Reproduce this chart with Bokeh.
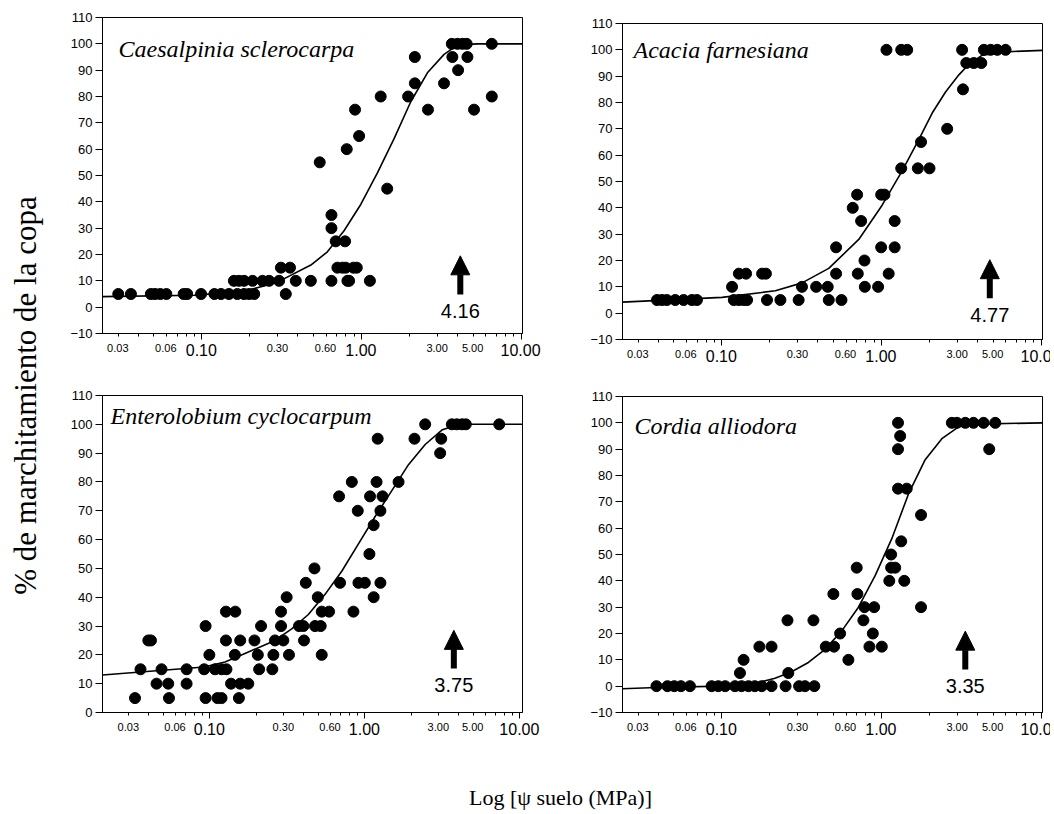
import math
from bokeh.plotting import figure
from bokeh.models import Range1d, FixedTicker, Label, Arrow, NormalHead, CustomJSTickFormatter, Div
from bokeh.layouts import row, column
from bokeh.embed import file_html
from bokeh.resources import INLINE
from bokeh.core.properties import value

# ---------------- data ----------------
# Panel 1: Caesalpinia sclerocarpa
p1_x = [0.030, 0.036, 0.048, 0.051, 0.055, 0.060, 0.077, 0.081, 0.099, 0.120, 0.132, 0.148, 0.167, 0.184, 0.198, 0.213, 0.336,
        0.159, 0.171, 0.184, 0.208, 0.240, 0.264, 0.305, 0.388, 0.482, 0.649, 0.817, 0.837, 1.13,
        0.313, 0.357, 0.707, 0.760, 0.797, 0.891, 0.935,
        0.690, 0.790, 0.649, 0.649,
        0.548, 0.809, 0.967, 0.912, 1.32, 1.45, 1.96, 2.16, 2.16, 2.61, 3.29,
        3.68, 3.99, 4.29, 4.56, 3.71, 4.03, 4.61, 5.07, 6.55, 6.55]
p1_y = [5] * 17 + [10] * 13 + [15] * 7 + \
       [25, 25, 30, 35,
        55, 60, 65, 75, 80, 45, 80, 95, 85, 75, 85,
        100, 100, 100, 100, 95, 90, 95, 75, 100, 80]
c1_x = [0.0239, 0.0896, 0.184, 0.298, 0.482, 0.612, 0.778, 0.99, 1.259, 1.601, 2.036, 2.589, 3.292, 3.99, 5.32, 10.2]
c1_y = [4, 4.5, 6, 9.5, 16, 21, 29, 39, 51, 64, 78, 89, 96, 99.5, 100, 100]

# Panel 2: Acacia farnesiana
p2_x = [0.0393, 0.0422, 0.0453, 0.0511, 0.0577, 0.0650, 0.0699, 0.119, 0.128, 0.137, 0.144, 0.192, 0.233, 0.303, 0.468, 0.562,
        0.116, 0.318, 0.390, 0.461, 0.787, 0.953,
        0.128, 0.142, 0.179, 0.189, 0.520, 0.711, 1.11,
        0.520, 0.996, 1.21, 0.783, 0.746, 1.21, 0.661, 0.704, 0.996, 1.045,
        1.33, 1.69, 2.0, 1.77, 2.58, 3.24,
        1.075, 1.33, 1.45, 3.20, 4.38, 4.83, 5.31, 5.99, 3.40, 3.79, 4.22]
p2_y = [5] * 16 + [10] * 6 + [15] * 7 + \
       [25, 25, 25, 20, 35, 35, 40, 45, 45, 45,
        55, 55, 55, 65, 70, 85,
        100, 100, 100, 100, 100, 100, 100, 100, 95, 95, 95]
c2_x = [0.0239, 0.1003, 0.2166, 0.3184, 0.4677, 0.7212, 1.01, 1.348, 1.716, 2.079, 2.52, 3.055, 3.53, 4.28, 6.29, 10.2]
c2_y = [4.2, 6, 8.5, 11.5, 17, 28, 41, 54, 66, 76, 84, 90.5, 94.5, 98, 99.3, 99.8]

# Panel 3: Enterolobium cyclocarpum
p3_x = [0.0329, 0.0545, 0.0939, 0.112, 0.119, 0.154,
        0.0453, 0.0539, 0.0708, 0.137, 0.157, 0.177,
        0.0357, 0.0488, 0.0708, 0.0919, 0.108, 0.119, 0.128, 0.208, 0.253,
        0.0993, 0.145, 0.204, 0.257, 0.324, 0.527,
        0.0401, 0.0417, 0.127, 0.157, 0.194, 0.263, 0.298, 0.405,
        0.0939, 0.214, 0.288, 0.376, 0.401, 0.477, 0.519,
        0.127, 0.146, 0.288, 0.527, 0.588, 0.844,
        0.313, 0.497, 1.14,
        0.416, 0.692, 0.909, 1.0, 1.26,
        0.473, 1.07, 1.14, 0.900, 1.26, 0.682, 1.08, 1.30, 0.824, 1.19, 1.65,
        1.21, 2.09, 3.11, 3.06, 2.45, 3.64, 3.92, 4.23, 4.48, 7.36]
p3_y = [5] * 6 + [10] * 6 + [15] * 9 + [20] * 6 + [25] * 8 + [30] * 7 + [35] * 6 + [40] * 3 + [45] * 5 + \
       [50, 55, 65, 70, 70, 75, 75, 75, 80, 80, 80,
        95, 95, 95, 90, 100, 100, 100, 100, 100, 100]
c3_x = [0.0203, 0.0919, 0.1252, 0.1685, 0.2633, 0.3373, 0.4321, 0.5538, 0.7096, 0.9092, 1.165, 1.493, 1.912, 2.45, 3.139, 4.022, 10.4]
c3_y = [13, 15.8, 17.5, 20.5, 25, 29, 34, 41, 49, 58.5, 68, 77, 86, 93, 98, 100, 100]

# Panel 4: Cordia alliodora
p4_x = [0.039, 0.0457, 0.0504, 0.0555, 0.0632, 0.0864, 0.0951, 0.105, 0.121, 0.133, 0.147, 0.161, 0.178, 0.205, 0.251, 0.305, 0.332, 0.380,
        0.130, 0.261, 0.137, 0.621,
        0.172, 0.205, 0.448, 0.505, 0.841, 1.005,
        0.551, 0.883, 0.258, 0.375, 0.771, 0.783, 0.900, 1.77,
        0.500, 0.707, 1.12, 1.39, 0.700, 1.15, 1.22, 1.15, 1.33, 1.77,
        1.27, 1.44, 1.27, 4.73, 1.31,
        1.27, 2.76, 2.97, 3.35, 3.77, 4.36, 5.16]
p4_y = [0] * 18 + [5, 5, 10, 10] + [15] * 6 + \
       [20, 20, 25, 25, 25, 30, 30, 30,
        35, 35, 40, 40, 45, 45, 45, 50, 55, 65,
        75, 75, 90, 90, 95,
        100, 100, 100, 100, 100, 100, 100]
c4_x = [0.0239, 0.039, 0.1, 0.161, 0.2156, 0.274, 0.3487, 0.4436, 0.5643, 0.7178, 0.913, 1.161, 1.477, 1.879, 2.39, 3.041, 3.868, 10.2]
c4_y = [-1, -0.5, 0, 1, 3, 5.5, 9, 14, 21, 30, 42, 56, 73, 86, 94, 98.5, 99.5, 100]

species = ["Caesalpinia sclerocarpa", "Acacia farnesiana", "Enterolobium cyclocarpum", "Cordia alliodora"]
thresholds = [4.16, 4.77, 3.75, 3.35]
threshold_labels = ["4.16", "4.77", "3.75", "3.35"]

x_major = [0.1, 1, 10]
x_major_labels = ["0.10", "1.00", "10.00"]
x_minor = [0.02, 0.03, 0.04, 0.05, 0.06, 0.07, 0.08, 0.09,
           0.2, 0.3, 0.4, 0.5, 0.6, 0.7, 0.8, 0.9,
           2, 3, 4, 5, 6, 7, 8, 9]
x_small = [0.03, 0.06, 0.3, 0.6, 3, 5]
x_small_labels = ["0.03", "0.06", "0.30", "0.60", "3.00", "5.00"]

y_label_text = "% de marchitamiento de la copa"
x_label_text = "Log [\u03c8 suelo (MPa)]"

SANS = "Liberation Sans"
SERIF = "Liberation Serif"
FRAME_W = 420


def tick_label_strip(xr, bl, fig_w, strip_h):
    """HTML strip under a panel carrying the x tick labels in two sizes."""
    l0 = math.log10(xr[0])
    dec_px = FRAME_W / (math.log10(xr[1]) - l0)
    spans = []
    for vals, labs, fs in ((x_small, x_small_labels, 11), (x_major, x_major_labels, 16)):
        for v, lab in zip(vals, labs):
            left = bl + (math.log10(v) - l0) * dec_px
            spans.append(
                f'<span style="position:absolute;left:{left:.1f}px;top:0px;'
                f'transform:translateX(-50%);font-size:{fs}px;line-height:1;white-space:nowrap;">{lab}</span>')
    html = (f'<div style="position:relative;width:{fig_w}px;height:{strip_h}px;overflow:hidden;'
            f'font-family:\'{SANS}\';color:black;margin:0;padding:0;">' + "".join(spans) + "</div>")
    return Div(text=html, width=fig_w, height=strip_h, margin=0)


def panel(name, xs, ys, cx, cy, thr, thr_label, xr, yr, fig_w, fig_h, borders,
          strip_h, name_dx, name_y, arrow_y0, arrow_y1, thr_label_y):
    bl, br, bt, bb = borders
    p = figure(width=fig_w, height=fig_h, x_axis_type="log",
               x_range=Range1d(*xr), y_range=Range1d(*yr),
               output_backend="svg", toolbar_location=None,
               min_border_left=bl, min_border_right=br,
               min_border_top=bt, min_border_bottom=bb)
    p.background_fill_color = "white"
    p.border_fill_color = "white"
    p.outline_line_color = "black"
    p.outline_line_alpha = 1
    p.outline_line_width = 1
    p.grid.visible = False

    # y axis
    p.yaxis.ticker = FixedTicker(ticks=list(range(yr[0], 111, 10)))
    p.yaxis.major_tick_out = 7
    p.yaxis.major_tick_in = 0
    p.yaxis.minor_tick_out = 0
    p.yaxis.major_label_standoff = 3
    p.yaxis.major_label_text_font = SANS
    p.yaxis.major_label_text_font_size = "13px"
    p.yaxis.major_label_text_color = "black"
    p.yaxis.axis_line_color = "black"
    p.yaxis.major_tick_line_color = "black"

    # x axis (log): ticks here, tick labels in the strip below
    p.xaxis.ticker = FixedTicker(ticks=x_major, minor_ticks=x_minor)
    p.xaxis.formatter = CustomJSTickFormatter(code="return '';")
    p.xaxis.major_tick_out = 6
    p.xaxis.major_tick_in = 0
    p.xaxis.minor_tick_out = 3
    p.xaxis.minor_tick_in = 0
    p.xaxis.major_label_standoff = 0
    p.xaxis.major_label_text_font_size = "1px"
    p.xaxis.axis_line_color = "black"
    p.xaxis.major_tick_line_color = "black"
    p.xaxis.minor_tick_line_color = "black"

    p.line(cx, cy, line_color="black", line_width=1.6)
    p.scatter(xs, ys, size=11, fill_color="black", line_color="black")

    p.add_layout(Arrow(end=NormalHead(size=19, fill_color="black", line_color="black"),
                       x_start=thr, y_start=arrow_y0, x_end=thr, y_end=arrow_y1,
                       line_width=6, line_color="black"))
    p.add_layout(Label(x=thr, y=thr_label_y, text=thr_label, text_align="center",
                       text_baseline="middle", text_font=SANS, text_font_size="20px",
                       text_color="black"))
    p.add_layout(Label(x=xr[0], y=name_y, x_offset=name_dx, text=name,
                       text_baseline="middle", text_font=SERIF, text_font_style="italic",
                       text_font_size="24px", text_color="black"))

    return column(p, tick_label_strip(xr, bl, fig_w, strip_h), spacing=0)


c1 = panel(species[0], p1_x, p1_y, c1_x, c1_y, thresholds[0], threshold_labels[0],
           (0.0239, 10.2), (-10, 110), 520, 343, (50, 50, 17, 10), 35,
           16, 98, 4.8, 19.5, -1.5)
c2 = panel(species[1], p2_x, p2_y, c2_x, c2_y, thresholds[1], threshold_labels[1],
           (0.0239, 10.2), (-10, 110), 478, 349, (50, 8, 23, 10), 29,
           11, 100, 5.7, 20.3, -0.6)
c3 = panel(species[2], p3_x, p3_y, c3_x, c3_y, thresholds[2], threshold_labels[2],
           (0.0203, 10.4), (0, 110), 520, 344, (50, 50, 17, 10), 38,
           8, 103, 15.3, 28.5, 9.5)
c4 = panel(species[3], p4_x, p4_y, c4_x, c4_y, thresholds[3], threshold_labels[3],
           (0.0239, 10.2), (-10, 110), 478, 344, (50, 8, 18, 10), 38,
           12, 98.7, 6.3, 20.9, 0)

TOTAL_H = 810

# shared y label
ylab = figure(width=52, height=TOTAL_H, x_range=Range1d(0, 52), y_range=Range1d(0, TOTAL_H),
              x_axis_location=None, y_axis_location=None, min_border=0,
              output_backend="svg", toolbar_location=None)
ylab.grid.visible = False
ylab.outline_line_color = None
ylab.text(x=[25], y=[TOTAL_H - 395], text=[y_label_text], angle=math.pi / 2,
          text_align="center", text_baseline="middle",
          text_font=value(SERIF), text_font_size="31px", text_color="black")

# shared x label
xlab = figure(width=998, height=50, x_range=Range1d(0, 998), y_range=Range1d(0, 50),
              x_axis_location=None, y_axis_location=None, min_border=0,
              output_backend="svg", toolbar_location=None)
xlab.grid.visible = False
xlab.outline_line_color = None
xlab.text(x=[508], y=[13], text=[x_label_text],
          text_align="center", text_baseline="middle",
          text_font=value(SERIF), text_font_size="22px", text_color="black")

layout = row(ylab, column(row(c1, c2, spacing=0), row(c3, c4, spacing=0), xlab, spacing=0), spacing=0)

open("out.html", "w").write(file_html(layout, INLINE))
